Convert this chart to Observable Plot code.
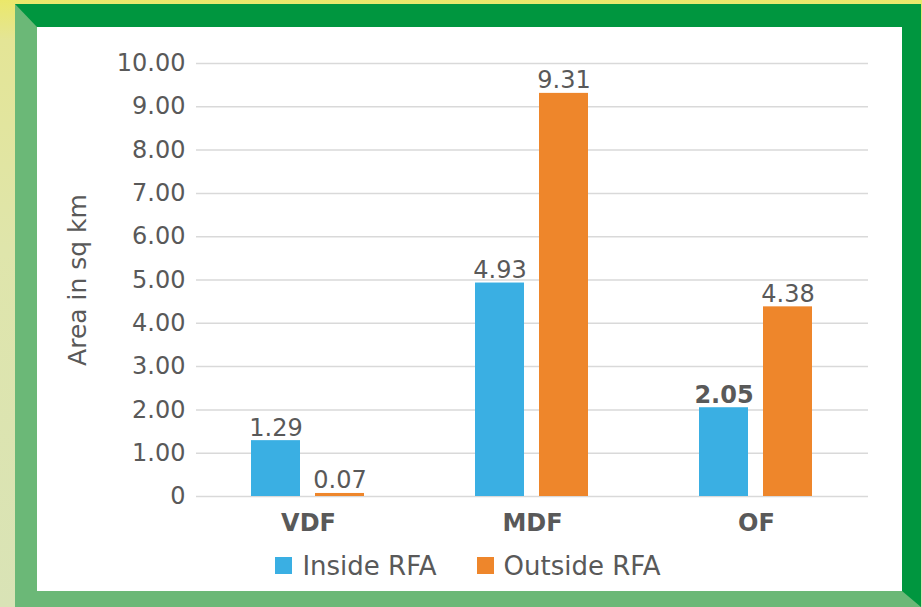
<!DOCTYPE html>
<html>
<head>
<meta charset="utf-8">
<script src="https://cdn.jsdelivr.net/npm/d3@7"></script>
<script src="https://cdn.jsdelivr.net/npm/@observablehq/plot@0.6"></script>
<style>
  html, body { margin: 0; padding: 0; }
  body {
    width: 922px; height: 607px; position: relative; overflow: hidden;
    background: linear-gradient(to bottom, #ebe86a 0px, #e4e596 40px, #dfe5ab 250px, #d9e3b6 607px);
    font-family: "DejaVu Sans", Verdana, sans-serif;
  }
  #frame {
    position: absolute; left: 15px; top: 4px; width: 865px; height: 564px;
    background: #ffffff;
    border-top: 23px solid #00963f;
    border-right: 19px solid #00963f;
    border-left: 22px solid #6bb877;
    border-bottom: 16px solid #6bb877;
  }
  #chart { position: absolute; left: 0; top: 0; }
  #legend { position: absolute; left: 15px; width: 946px; top: 549px; display: flex; justify-content: center; }
  .lg-swatch { margin-right: 40px !important; }
  .lg-swatch svg { margin-right: 10px !important; }
</style>
</head>
<body>
<div id="frame"></div>
<div id="chart"></div>
<div id="legend"></div>
<script>
const categories = ["VDF", "MDF", "OF"];
const seriesNames = ["Inside RFA", "Outside RFA"];
const insideValues = [1.29, 4.93, 2.05];
const outsideValues = [0.07, 9.31, 4.38];
const yTicks = [0, 1, 2, 3, 4, 5, 6, 7, 8, 9, 10];
const seriesColors = ["#3aafe3", "#ee862b"];
const boldLabels = ["OF|Inside RFA"];

const data = [];
categories.forEach((c, i) => {
  data.push({category: c, series: seriesNames[0], value: insideValues[i]});
  data.push({category: c, series: seriesNames[1], value: outsideValues[i]});
});
const isBold = d => boldLabels.includes(d.category + "|" + d.series);

const textColor = "#595959";
const font = "DejaVu Sans, Verdana, sans-serif";

const chart = Plot.plot({
  width: 922,
  height: 607,
  marginLeft: 196,
  marginRight: 54,
  marginTop: 63,
  marginBottom: 111,
  style: {background: "transparent", color: textColor, fontFamily: font, overflow: "visible"},
  fx: {domain: categories, padding: 0, label: null},
  x: {domain: seriesNames, paddingInner: 15 / 65, paddingOuter: 0.84, axis: null},
  y: {domain: [0, 10], label: null},
  color: {domain: seriesNames, range: seriesColors},
  marks: [
    Plot.gridY(yTicks, {stroke: "#d9d9d9", strokeOpacity: 1, strokeWidth: 1.5}),
    Plot.axisY(yTicks, {
      tickSize: 0, tickPadding: 11, fontSize: 24, fill: textColor,
      tickFormat: d => d === 0 ? "0" : d.toFixed(2),
      label: null
    }),
    Plot.axisY([], {
      tickSize: 0, fontSize: 25, fill: textColor,
      label: "Area in sq km", labelAnchor: "center", labelArrow: "none", labelOffset: 128
    }),
    Plot.axisFx({anchor: "bottom", tickSize: 0, tickPadding: 17, fontSize: 24, fontWeight: "bold", fill: textColor, label: null}),
    Plot.barY(data, {fx: "category", x: "series", y: "value", fill: "series"}),
    Plot.text(data.filter(d => !isBold(d)), {
      fx: "category", x: "series", y: "value", text: d => d.value.toFixed(2),
      dy: -5, lineAnchor: "bottom", fontSize: 24, fill: textColor
    }),
    Plot.text(data.filter(isBold), {
      fx: "category", x: "series", y: "value", text: d => d.value.toFixed(2),
      dy: -5, lineAnchor: "bottom", fontSize: 24, fontWeight: "bold", fill: textColor
    })
  ]
});
document.getElementById("chart").appendChild(chart);

const legend = Plot.legend({
  color: {domain: seriesNames, range: seriesColors},
  swatchSize: 17,
  className: "lg",
  style: {fontSize: "26px", color: textColor, fontFamily: font, background: "transparent"}
});
document.getElementById("legend").appendChild(legend);
</script>
</body>
</html>
